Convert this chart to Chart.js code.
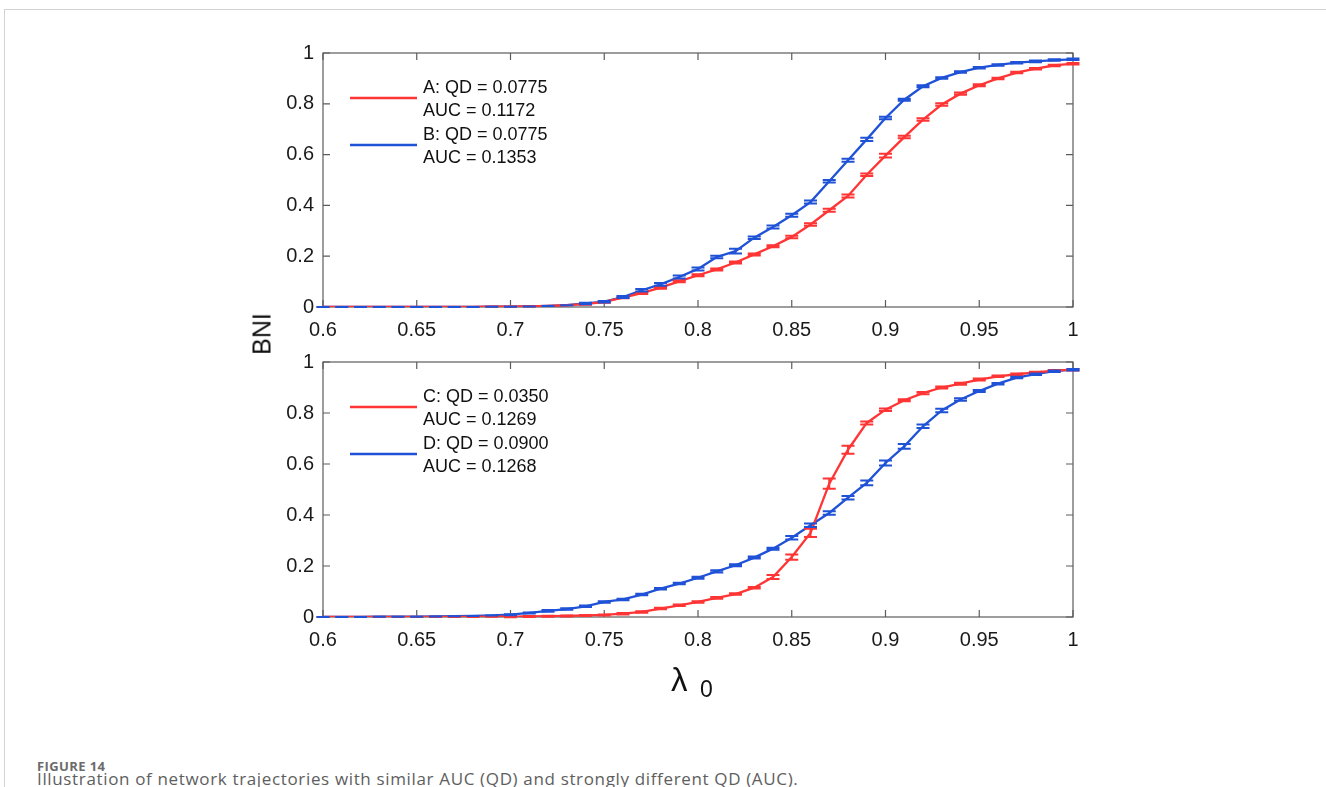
<!DOCTYPE html>
<html>
<head>
<meta charset="utf-8">
<script src="https://cdn.jsdelivr.net/npm/chart.js@4.4.1/dist/chart.umd.min.js"></script>
<style>
html,body{margin:0;padding:0;background:#fff;}
#page{position:relative;width:1326px;height:787px;overflow:hidden;background:#fff;}
#frameTop{position:absolute;left:4px;top:9px;width:1322px;height:0;border-top:1px solid #d3d3d3;}
#frameLeft{position:absolute;left:4px;top:9px;width:0;height:778px;border-left:1px solid #d3d3d3;}
canvas{position:absolute;left:0;}
#c1{top:0px;}
#c2{top:340px;}
#ylab{position:absolute;left:262px;top:334px;transform:translate(-50%,-50%) rotate(-90deg);font:25px 'Liberation Sans',Arial,sans-serif;color:#111;white-space:nowrap;}
#xlab{position:absolute;left:671px;top:660px;font:33px 'Liberation Sans',Arial,sans-serif;color:#111;white-space:nowrap;line-height:40px;}
#xlab .s{position:absolute;left:29px;top:16px;font-size:23px;line-height:26px;}
#capHead{position:absolute;left:37px;top:758px;font:bold 13px 'Open Sans',sans-serif;line-height:16px;color:#6b6b6b;letter-spacing:0.4px;white-space:nowrap;}
#capText{position:absolute;left:37px;top:769px;font:17px 'Open Sans',sans-serif;line-height:20px;color:#5e5e5e;white-space:nowrap;letter-spacing:0.65px;}
</style>
</head>
<body>
<div id="page">
  <div id="frameTop"></div>
  <div id="frameLeft"></div>
  <canvas id="c1" width="1326" height="350"></canvas>
  <canvas id="c2" width="1326" height="330"></canvas>
  <div id="ylab">BNI</div>
  <div id="xlab">λ<span class="s">0</span></div>
  <div id="capHead">FIGURE 14</div>
  <div id="capText">Illustration of network trajectories with similar AUC (QD) and strongly different QD (AUC).</div>
</div>
<script>
// ---------- DATA ----------
const lambda0 = [0.60,0.61,0.62,0.63,0.64,0.65,0.66,0.67,0.68,0.69,
                 0.70,0.71,0.72,0.73,0.74,0.75,0.76,0.77,0.78,0.79,
                 0.80,0.81,0.82,0.83,0.84,0.85,0.86,0.87,0.88,0.89,
                 0.90,0.91,0.92,0.93,0.94,0.95,0.96,0.97,0.98,0.99,1.00];

const xTickValues = [0.6,0.65,0.7,0.75,0.8,0.85,0.9,0.95,1];
const xTickLabels = ['0.6','0.65','0.7','0.75','0.8','0.85','0.9','0.95','1'];
const yTickValues = [0,0.2,0.4,0.6,0.8,1];
const yTickLabels = ['0','0.2','0.4','0.6','0.8','1'];

// Top panel
const bniA = [0,0,0,0,0,0,0,0,0,0.001,
              0.001,0.002,0.004,0.007,0.011,0.020,0.037,0.055,0.076,0.101,
              0.125,0.148,0.175,0.207,0.239,0.276,0.325,0.381,0.437,0.521,
              0.596,0.669,0.738,0.797,0.840,0.873,0.900,0.923,0.938,0.951,0.958];
const errA = [0,0,0,0,0,0,0,0,0,0,
              0,0,0,0,0.002,0.003,0.003,0.004,0.004,0.004,
              0.004,0.004,0.004,0.004,0.004,0.005,0.005,0.006,0.006,0.005,
              0.007,0.005,0.005,0.005,0.004,0.004,0.003,0.003,0.003,0.003,0.003];
const bniB = [0,0,0,0,0,0,0,0,0,0.001,
              0.001,0.002,0.004,0.007,0.014,0.021,0.039,0.066,0.089,0.118,
              0.150,0.197,0.220,0.273,0.315,0.361,0.413,0.495,0.578,0.660,
              0.744,0.816,0.869,0.902,0.925,0.942,0.953,0.962,0.967,0.972,0.975];
const errB = [0,0,0,0,0,0,0,0,0,0,
              0,0,0,0,0.003,0.003,0.004,0.005,0.005,0.006,
              0.006,0.005,0.009,0.005,0.006,0.006,0.006,0.005,0.006,0.006,
              0.005,0.004,0.004,0.003,0.003,0.003,0.003,0.003,0.003,0.003,0.003];

// Bottom panel
const bniC = [0,0,0,0,0,0,0,0,0,0.001,
              0.001,0.002,0.003,0.004,0.006,0.008,0.013,0.020,0.033,0.046,
              0.059,0.075,0.090,0.115,0.157,0.235,0.330,0.523,0.656,0.761,
              0.813,0.850,0.878,0.900,0.915,0.931,0.944,0.952,0.959,0.966,0.970];
const errC = [0,0,0,0,0,0,0,0,0,0,
              0.002,0.002,0.002,0.002,0.002,0.002,0.003,0.003,0.003,0.003,
              0.003,0.003,0.003,0.003,0.008,0.010,0.016,0.020,0.016,0.006,
              0.005,0.004,0.004,0.004,0.004,0.004,0.003,0.003,0.003,0.003,0.003];
const bniD = [0,0,0,0.001,0.001,0.001,0.002,0.003,0.004,0.006,
              0.009,0.016,0.024,0.031,0.042,0.059,0.069,0.088,0.111,0.131,
              0.154,0.179,0.203,0.233,0.268,0.311,0.360,0.408,0.468,0.526,
              0.604,0.669,0.748,0.810,0.853,0.886,0.915,0.939,0.952,0.964,0.970];
const errD = [0,0,0,0,0,0,0,0,0,0,
              0.002,0.002,0.003,0.003,0.003,0.003,0.003,0.003,0.003,0.003,
              0.004,0.004,0.004,0.004,0.004,0.007,0.007,0.007,0.007,0.009,
              0.010,0.009,0.007,0.007,0.005,0.004,0.003,0.003,0.003,0.003,0.003];

const labelsTop = [['A: QD = 0.0775','AUC = 0.1172'],['B: QD = 0.0775','AUC = 0.1353']];
const labelsBottom = [['C: QD = 0.0350','AUC = 0.1269'],['D: QD = 0.0900','AUC = 0.1268']];

const RED = '#ff3535';
const BLUE = '#1f52d6';
const FONT = "'Liberation Sans', Arial, sans-serif";

// ---------- PLUGINS ----------
const boxPlugin = {
  id: 'matBox',
  beforeDatasetsDraw(chart) {
    const {ctx, chartArea: a, scales: {x, y}} = chart;
    ctx.save();
    ctx.strokeStyle = '#5c5c5c';
    ctx.lineWidth = 1.2;
    ctx.strokeRect(a.left, a.top, a.right - a.left, a.bottom - a.top);
    const tl = 7;
    ctx.beginPath();
    x.ticks.forEach(t => {
      const px = x.getPixelForValue(t.value);
      ctx.moveTo(px, a.bottom); ctx.lineTo(px, a.bottom - tl);
      ctx.moveTo(px, a.top); ctx.lineTo(px, a.top + tl);
    });
    y.ticks.forEach(t => {
      const py = y.getPixelForValue(t.value);
      ctx.moveTo(a.left, py); ctx.lineTo(a.left + tl, py);
      ctx.moveTo(a.right, py); ctx.lineTo(a.right - tl, py);
    });
    ctx.stroke();
    ctx.restore();
  }
};

const errPlugin = {
  id: 'errBars',
  afterDatasetsDraw(chart) {
    const {ctx, scales: {x, y}} = chart;
    ctx.save();
    chart.data.datasets.forEach(ds => {
      ctx.strokeStyle = ds.borderColor;
      ctx.lineWidth = 2;
      ctx.beginPath();
      ds.data.forEach((p, i) => {
        const e = ds.errors[i];
        const px = x.getPixelForValue(p.x);
        const yl = y.getPixelForValue(p.y - e);
        const yh = y.getPixelForValue(p.y + e);
        const w = 6.5;
        ctx.moveTo(px, yl); ctx.lineTo(px, yh);
        ctx.moveTo(px - w, yl); ctx.lineTo(px + w, yl);
        ctx.moveTo(px - w, yh); ctx.lineTo(px + w, yh);
      });
      ctx.stroke();
    });
    ctx.restore();
  }
};

const legendPlugin = {
  id: 'matLegend',
  afterDraw(chart) {
    const {ctx, chartArea: a} = chart;
    ctx.save();
    ctx.font = '18px ' + FONT;
    ctx.fillStyle = '#111';
    ctx.textBaseline = 'middle';
    ctx.textAlign = 'left';
    chart.data.datasets.forEach((ds, i) => {
      const y0 = a.top + 35 + i * 47;
      ctx.fillText(ds.legendLines[0], a.left + 100, y0);
      ctx.fillText(ds.legendLines[1], a.left + 100, y0 + 23.5);
      ctx.strokeStyle = ds.borderColor;
      ctx.lineWidth = 2.4;
      ctx.beginPath();
      ctx.moveTo(a.left + 27, y0 + 10);
      ctx.lineTo(a.left + 94, y0 + 10);
      ctx.stroke();
    });
    ctx.restore();
  }
};

// ---------- CHART BUILDER ----------
function makeChart(id, series, legends, pad) {
  const datasets = series.map((s, k) => ({
    data: lambda0.map((lv, i) => ({x: lv, y: s.values[i]})),
    errors: s.errors,
    legendLines: legends[k],
    borderColor: s.color,
    backgroundColor: s.color,
    borderWidth: 2.3,
    pointRadius: 0,
    tension: 0,
    fill: false
  }));
  return new Chart(document.getElementById(id), {
    type: 'line',
    data: {datasets},
    options: {
      responsive: false,
      animation: false,
      layout: {padding: pad},
      plugins: {legend: {display: false}, tooltip: {enabled: false}},
      scales: {
        x: {
          type: 'linear', min: 0.6, max: 1,
          grid: {display: false, drawTicks: false},
          border: {display: false},
          afterBuildTicks: s => { s.ticks = xTickValues.map(v => ({value: v})); },
          afterFit: s => { s.height = 33; },
          ticks: {
            autoSkip: false, maxRotation: 0, padding: 11,
            color: '#1a1a1a',
            font: {family: FONT, size: 20},
            callback: (v, i) => xTickLabels[i]
          }
        },
        y: {
          type: 'linear', min: 0, max: 1,
          grid: {display: false, drawTicks: false},
          border: {display: false},
          afterBuildTicks: s => { s.ticks = yTickValues.map(v => ({value: v})); },
          afterFit: s => { s.width = 60; },
          ticks: {
            padding: 9,
            color: '#1a1a1a',
            font: {family: FONT, size: 20},
            callback: (v, i) => yTickLabels[i]
          }
        }
      }
    },
    plugins: [boxPlugin, errPlugin, legendPlugin]
  });
}

makeChart('c1', [
  {values: bniA, errors: errA, color: RED},
  {values: bniB, errors: errB, color: BLUE}
], labelsTop, {top: 53, left: 263, right: 253, bottom: 10});

makeChart('c2', [
  {values: bniC, errors: errC, color: RED},
  {values: bniD, errors: errD, color: BLUE}
], labelsBottom, {top: 22, left: 263, right: 253, bottom: 20});
</script>
</body>
</html>
